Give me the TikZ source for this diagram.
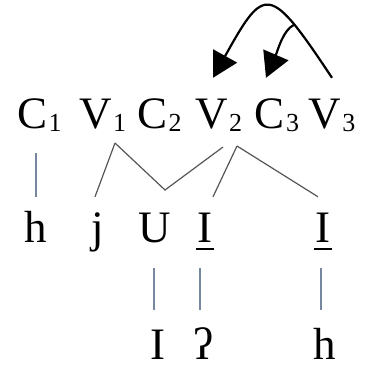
\documentclass[tikz,border=0pt]{standalone}
\usepackage{fontspec}
\setmainfont{Liberation Serif}
\usetikzlibrary{arrows.meta,calc}
\definecolor{linkgray}{RGB}{85,85,85}
\definecolor{tiergray}{RGB}{120,135,160}
\newcommand{\segsub}[1]{\rlap{\kern1pt\raisebox{-3pt}{\fontsize{26pt}{26pt}\selectfont #1}}}
\newcommand{\lowI}{\ooalign{I\cr\hidewidth\rule[-8pt]{18pt}{2pt}\hidewidth\cr}}

\begin{document}
\begin{tikzpicture}[x=1pt,y=1pt,
    seg/.style={font=\fontsize{45pt}{50pt}\selectfont,inner xsep=0pt,anchor=base},
    top/.style={seg,text height=30pt,text depth=5pt,inner ysep=20pt},
    mid/.style={seg,text height=30pt,text depth=11pt,inner ysep=15pt},
    bot/.style={seg,text height=30pt,text depth=0pt,inner ysep=0pt},
    link/.style={linkgray,line width=1.2pt},
    tier/.style={tiergray,line width=1.2pt},
    move/.style={black,line width=2.2pt,-{Triangle[length=25pt,width=27pt]}}]
    \useasboundingbox (0,0) rectangle (370,-365);

    % Skeleton
    \node[top] (c1) at (32.5,-128) {C\segsub{1}};
    \node[top] (v1) at (96,-128) {V\segsub{1}};
    \node[top] (c2) at (152.5,-128) {C\segsub{2}};
    \node[top] (v2) at (212,-128) {V\segsub{2}};
    \node[top] (c3) at (270,-128) {C\segsub{3}};
    \node[top] (v3) at (325,-128) {V\segsub{3}};

    % Melody
    \node[mid] (h1) at (36,-242) {h};
    \node[mid] (j) at (98,-242) {j};
    \node[mid] (u) at (155,-242) {U};
    \node[mid] (i1) at (205,-242) {\lowI};
    \node[mid] (i2) at (323,-242) {\lowI};

    \node[bot] (ii) at (158,-359) {I};
    \node[bot] (gs) at (203,-359) {ʔ};
    \node[bot] (h2) at (325,-359) {h};

    % Association lines
    \coordinate (v1a) at (115,-143);
    \coordinate (v2a) at (237,-146);
    \coordinate (v2l) at (223,-147);
    \coordinate (dip) at (165,-190);

    \draw[tier] (c1.south -| h1.north) -- (h1.north);
    \draw[link] (v1a) -- ([xshift=-3pt]j.north);
    \draw[link] (v1a) -- (dip) -- (v2l);
    \draw[link] (v2a) -- ([xshift=8pt]i1.north);
    \draw[link] (v2a) -- ([xshift=-5pt]i2.north);

    \draw[tier,shorten >=19pt] ([xshift=-1pt]u.south) -- ([xshift=-1pt]u.south |- ii.north);
    \draw[tier,shorten >=19pt] ([xshift=-5pt]i1.south) -- ([xshift=-5pt]i1.south |- gs.north);
    \draw[tier,shorten >=19pt] ([xshift=-2pt]i2.south) -- ([xshift=-2pt]i2.south |- h2.north);

    % Spreading
    \draw[move] ([xshift=7pt]v3.north) .. controls (269,17) and (264.7,15) .. ([xshift=1pt]v2.north)
        coordinate[pos=0.25] (fork);
    \draw[move] (fork) .. controls (283,-30) and (278,-50) .. ([xshift=-4pt]c3.north);
\end{tikzpicture}
\end{document}
